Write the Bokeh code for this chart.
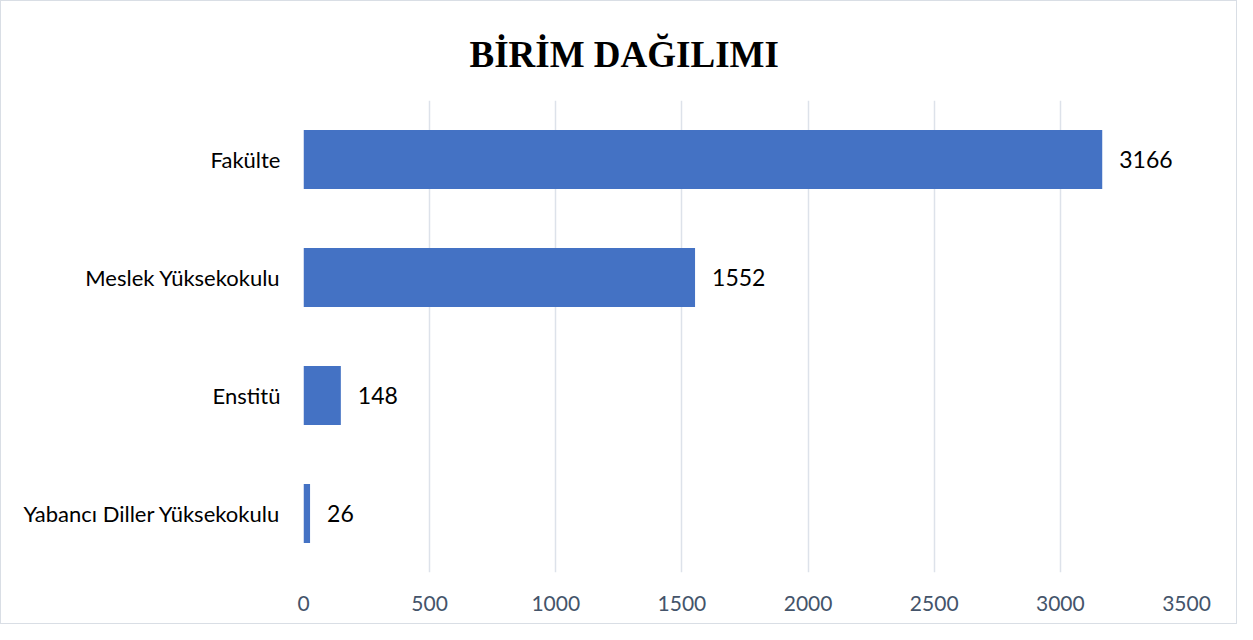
from bokeh.plotting import figure
from bokeh.models import ColumnDataSource, LabelSet, FactorRange, Range1d, FixedTicker, Title
from bokeh.core.properties import value
from bokeh.embed import file_html
from bokeh.resources import INLINE

categories = ["Fakülte", "Meslek Yüksekokulu", "Enstitü", "Yabancı Diller Yüksekokulu"]
values = [3166, 1552, 148, 26]
x_ticks = [0, 500, 1000, 1500, 2000, 2500, 3000, 3500]
title_text = "BİRİM DAĞILIMI"

labels = [str(v) for v in values]
source = ColumnDataSource(data=dict(cat=categories, val=values, lab=labels))

p = figure(
    width=1237, height=624,
    y_range=FactorRange(*list(reversed(categories)), range_padding=0),
    x_range=Range1d(0, 3500),
    output_backend="svg", toolbar_location=None,
    min_border_left=302, min_border_right=52, min_border_top=99, min_border_bottom=53,
)
p.title = Title(text=title_text, align="left", offset=166, standoff=52,
                text_font="Liberation Serif", text_font_size="37px",
                text_font_style="bold", text_color="#000000")

p.hbar(y="cat", right="val", left=0, height=0.5, source=source,
       fill_color="#4472C4", line_color=None)

p.add_layout(LabelSet(x="val", y="cat", text="lab", source=source,
                      x_offset=17, text_baseline="middle", text_align="left",
                      text_font=value("Lato"), text_font_size=value("23px"),
                      text_color="#000000"))

p.outline_line_color = None
p.ygrid.grid_line_color = None
p.xgrid.grid_line_color = "#DDE2EA"
p.xgrid.grid_line_width = 1.5
p.xaxis.ticker = FixedTicker(ticks=x_ticks)
p.xaxis.axis_line_color = None
p.xaxis.major_tick_line_color = None
p.xaxis.minor_tick_line_color = None
p.xaxis.major_label_standoff = 17
p.xaxis.major_label_text_font = "Lato"
p.xaxis.major_label_text_font_size = "21px"
p.xaxis.major_label_text_color = "#44546A"

p.yaxis.axis_line_color = None
p.yaxis.major_tick_line_color = None
p.yaxis.minor_tick_line_color = None
p.yaxis.major_label_standoff = 17
p.yaxis.major_label_text_font = "Lato"
p.yaxis.major_label_text_font_size = "22px"
p.yaxis.major_label_text_color = "#000000"

p.styles = {"border": "1px solid #D9DEE5", "box-sizing": "border-box"}

open("out.html", "w").write(file_html(p, INLINE))
